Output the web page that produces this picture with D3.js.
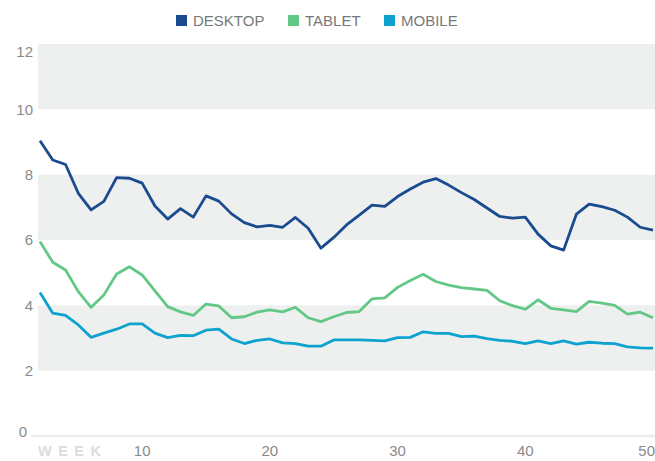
<!DOCTYPE html>
<html><head><meta charset="utf-8">
<script src="https://cdn.jsdelivr.net/npm/d3@7"></script>
<style>body{margin:0;background:#fff}svg{display:block}text{font-family:"Liberation Sans",Arial,sans-serif}</style>
</head><body><svg id="c" width="655" height="461"></svg>
<script>
const weeks = d3.range(2, 51);
const desktop = [9.04,8.45,8.31,7.43,6.92,7.18,7.91,7.89,7.74,7.04,6.64,6.96,6.70,7.35,7.19,6.80,6.53,6.40,6.45,6.39,6.69,6.36,5.75,6.08,6.46,6.76,7.07,7.03,7.33,7.56,7.77,7.88,7.68,7.45,7.24,6.98,6.72,6.67,6.70,6.18,5.82,5.69,6.79,7.10,7.02,6.91,6.70,6.39,6.30];
const tablet = [5.95,5.32,5.08,4.42,3.94,4.32,4.96,5.18,4.93,4.44,3.96,3.80,3.69,4.04,3.98,3.62,3.65,3.79,3.86,3.80,3.94,3.62,3.50,3.65,3.78,3.81,4.20,4.23,4.55,4.76,4.95,4.73,4.62,4.54,4.50,4.46,4.14,3.99,3.88,4.17,3.91,3.86,3.81,4.12,4.07,4.00,3.73,3.79,3.62];
const mobile = [4.39,3.76,3.69,3.40,3.02,3.15,3.27,3.43,3.43,3.15,3.01,3.08,3.07,3.24,3.27,2.97,2.83,2.93,2.97,2.85,2.83,2.75,2.75,2.94,2.94,2.94,2.93,2.91,3.01,3.02,3.19,3.14,3.14,3.04,3.06,2.98,2.93,2.90,2.83,2.91,2.83,2.91,2.81,2.87,2.84,2.83,2.73,2.70,2.69];
const seriesNames = ["DESKTOP","TABLET","MOBILE"];
const seriesColors = ["#1b4b8f","#63c886","#0ea3cf"];
const yTicks = [0,2,4,6,8,10,12];
const xTicks = [10,20,30,40,50];
const bands = [[2,4],[6,8],[10,12]];

const svg = d3.select("#c");
const x = d3.scaleLinear().domain([2,50]).range([40,653]);
const y = d3.scaleLinear().domain([0,12]).range([436,44]);

svg.selectAll("rect.band").data(bands).join("rect")
  .attr("x",38).attr("width",655-38)
  .attr("y",d=>y(d[1])).attr("height",d=>y(d[0])-y(d[1]))
  .attr("fill","#eeefef");

svg.append("line").attr("x1",31).attr("x2",655).attr("y1",y(0)).attr("y2",y(0))
  .attr("stroke","#ececec").attr("stroke-width",2.5);

// y labels
svg.selectAll("text.yl").data(yTicks).join("text")
  .attr("x",d=>d===0?27:33)
  .attr("y",d=>d===12?y(d)+8:d===0?y(d)-4:y(d))
  .attr("dy","0.35em").attr("text-anchor","end")
  .attr("font-size",15).attr("fill","#8a8a8a").text(d=>d);

// x labels
svg.selectAll("text.xl").data(xTicks).join("text")
  .attr("x",d=>d===50?655:x(d)).attr("y",451).attr("dy","0.35em")
  .attr("text-anchor",d=>d===50?"end":"middle")
  .attr("font-size",15).attr("fill","#8a8a8a").text(d=>d);

svg.append("text").attr("x",38).attr("y",451).attr("dy","0.35em")
  .attr("font-size",14.5).attr("font-weight","bold").attr("letter-spacing",6.5)
  .attr("fill","#dcdcdc").text("WEEK");

const line = d3.line().x((d,i)=>x(weeks[i])).y(d=>y(d));
[desktop,tablet,mobile].forEach((s,i)=>{
  svg.append("path").datum(s).attr("d",line).attr("fill","none")
    .attr("stroke",seriesColors[i]).attr("stroke-width",2.8)
    .attr("stroke-linejoin","round");
});

// legend
const legX = [176,288,384];
const leg = svg.selectAll("g.leg").data(seriesNames).join("g")
  .attr("transform",(d,i)=>`translate(${legX[i]},15)`);
leg.append("rect").attr("width",11).attr("height",11).attr("fill",(d,i)=>seriesColors[i]);
leg.append("text").attr("x",17).attr("y",5.5).attr("dy","0.36em")
  .attr("font-size",15).attr("fill","#787878").text(d=>d);
</script></body></html>
